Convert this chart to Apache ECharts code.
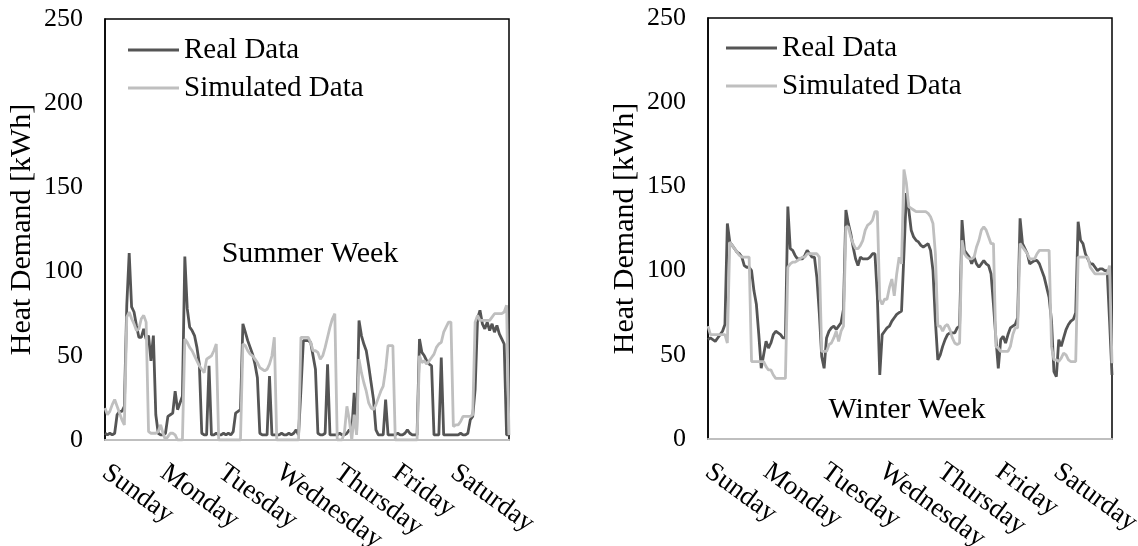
<!DOCTYPE html>
<html>
<head>
<meta charset="utf-8">
<script src="https://cdn.jsdelivr.net/npm/echarts@6/dist/echarts.min.js"></script>
<style>
  html, body { margin: 0; padding: 0; background: #fff; }
  #chart { width: 1138px; height: 546px; }
</style>
</head>
<body>
<div id="chart"></div>
<script>
var days = ['Sunday', 'Monday', 'Tuesday', 'Wednesday', 'Thursday', 'Friday', 'Saturday'];
var yTicks = [0, 50, 100, 150, 200, 250];

// hourly values, one row per day
var summerReal = [
  4,3,4,3,4,15,17,17,20,80,111,79,76,68,61,61,66,60,62,47,62,15,4,3,
  3,4,14,15,16,29,18,22,26,109,78,67,65,62,55,45,4,3,3,44,3,3,4,3,
  3,4,3,4,3,5,16,17,18,69,64,59,55,51,45,37,4,3,3,3,38,3,3,3,
  3,4,3,3,4,3,4,6,3,30,59,59,59,58,50,42,4,3,3,4,45,3,3,3,
  3,4,3,3,4,6,5,28,4,71,62,57,53,44,34,24,6,3,3,3,24,3,3,3,
  3,4,3,3,4,6,4,3,3,3,60,52,50,47,45,44,3,3,3,49,3,3,3,3,
  3,3,3,4,3,3,4,12,14,30,72,77,69,66,70,65,69,64,68,63,60,57,3,3
];
var summerSim = [
  19,15,17,21,24,20,16,12,9,73,76,72,69,65,66,72,74,70,5,4,4,4,5,9,
  4,0,2,4,4,3,0,0,0,60,58,55,53,50,47,44,42,40,48,49,50,53,57,0,
  0,0,0,0,0,0,0,0,0,57,56,53,51,50,48,46,43,42,41,42,45,50,61,0,
  0,0,0,0,0,0,0,0,0,61,61,61,61,58,53,53,52,48,50,55,61,67,72,75,
  0,0,0,5,20,12,0,15,3,48,40,34,29,22,19,18,21,25,29,32,42,56,56,56,
  0,0,0,0,0,0,0,0,0,0,50,46,47,45,47,49,51,55,57,58,64,67,70,70,
  8,9,9,11,14,14,14,14,15,70,74,71,71,71,71,71,73,75,75,75,75,76,80,3
];
var winterReal = [
  59,60,59,58,60,62,64,68,128,117,115,113,111,110,108,103,102,102,100,88,80,62,42,50,
  58,54,57,62,64,63,62,60,60,138,113,112,109,107,107,107,109,112,110,108,108,96,75,49,
  42,60,64,66,67,65,67,69,77,136,128,122,114,107,103,108,107,107,107,108,110,110,85,38,
  62,64,66,67,70,72,74,75,76,110,146,136,124,120,118,117,115,114,115,116,112,100,70,47,
  50,55,59,62,63,63,63,66,67,130,112,110,108,104,108,104,102,104,106,104,103,98,80,60,
  42,59,61,57,62,66,67,68,72,131,116,113,110,104,105,106,106,104,100,96,90,84,70,40,
  37,59,55,60,65,68,70,71,75,129,118,116,110,107,104,104,102,100,101,101,100,100,70,38
];
var winterSim = [
  67,62,62,62,62,62,62,62,57,117,115,113,111,109,108,108,108,108,46,46,46,46,46,46,
  43,41,41,38,36,36,36,36,36,102,104,105,105,106,107,108,108,110,110,110,110,110,108,52,
  52,52,56,57,60,64,58,64,67,126,126,120,116,113,113,115,118,124,127,128,130,135,135,83,
  80,83,83,90,95,85,98,108,104,160,152,138,137,136,135,135,135,135,135,134,132,128,110,67,
  67,64,67,68,65,60,57,56,57,118,110,108,107,107,108,114,118,124,126,124,120,116,116,55,
  54,52,52,52,52,55,62,66,66,116,114,112,110,107,107,107,110,112,112,112,112,112,55,47,
  47,46,48,51,50,47,46,46,46,108,108,108,108,108,102,100,98,98,98,98,98,98,103,45
];

var hours = [];
days.forEach(function (d) {
  for (var h = 0; h < 24; h++) hours.push(d + ' ' + h + ':00');
});

var FONT = '"Liberation Serif", "Times New Roman", serif';
var DARK = '#555555', LIGHT = '#bfbfbf';

function xAxisFor(i) {
  return {
    type: 'category', gridIndex: i, data: hours, boundaryGap: false,
    axisLine: { lineStyle: { color: '#bfbfbf', width: 2 } },
    axisTick: { show: false },
    axisLabel: {
      interval: function (idx) { return idx % 24 === 0; },
      formatter: function (v) { return v.split(' ')[0]; },
      rotate: -36, margin: 30,
      fontFamily: FONT, fontSize: 27, color: '#000'
    }
  };
}
function yAxisFor(i) {
  return {
    type: 'value', gridIndex: i, min: yTicks[0], max: yTicks[yTicks.length - 1], interval: 50,
    name: 'Heat Demand [kWh]', nameLocation: 'middle', nameGap: 68,
    nameTextStyle: { fontFamily: FONT, fontSize: 30, color: '#000' },
    axisLine: { show: true, lineStyle: { color: '#000', width: 1.5 } },
    axisTick: { show: false },
    splitLine: { show: false },
    axisLabel: { margin: 22, fontFamily: FONT, fontSize: 26, color: '#000' }
  };
}
function lineFor(name, data, i, color) {
  return {
    name: name, type: 'line', xAxisIndex: i, yAxisIndex: i, data: data,
    symbol: 'none', lineStyle: { color: color, width: 2.8 }, itemStyle: { color: color }
  };
}
function legendFor(left, top) {
  return {
    left: left, top: top, orient: 'vertical', data: ['Real Data', 'Simulated Data'],
    icon: 'rect', itemWidth: 51, itemHeight: 3, itemGap: 8, selectedMode: false,
    textStyle: { fontFamily: FONT, fontSize: 29, color: '#000', lineHeight: 30 }
  };
}

var chart = echarts.init(document.getElementById('chart'));
chart.setOption({
  animation: false,
  backgroundColor: '#fff',
  grid: [
    { left: 105, top: 19, width: 404, height: 421, show: true, borderColor: '#000', borderWidth: 1.5, containLabel: false, outerBoundsMode: 'none' },
    { left: 708, top: 18, width: 404, height: 421, show: true, borderColor: '#000', borderWidth: 1.5, containLabel: false, outerBoundsMode: 'none' }
  ],
  xAxis: [xAxisFor(0), xAxisFor(1)],
  yAxis: [yAxisFor(0), yAxisFor(1)],
  legend: [legendFor(123, 30), legendFor(721, 28)],
  graphic: [
    { type: 'text', x: 310, y: 254, style: { text: 'Summer Week', font: '30px ' + FONT, fill: '#000', align: 'center', verticalAlign: 'middle', textAlign: 'center', textVerticalAlign: 'middle' } },
    { type: 'text', x: 907, y: 410, style: { text: 'Winter Week', font: '30px ' + FONT, fill: '#000', align: 'center', verticalAlign: 'middle', textAlign: 'center', textVerticalAlign: 'middle' } }
  ],
  series: [
    lineFor('Real Data', summerReal, 0, DARK),
    lineFor('Simulated Data', summerSim, 0, LIGHT),
    lineFor('Real Data', winterReal, 1, DARK),
    lineFor('Simulated Data', winterSim, 1, LIGHT)
  ]
});
</script>
</body>
</html>
